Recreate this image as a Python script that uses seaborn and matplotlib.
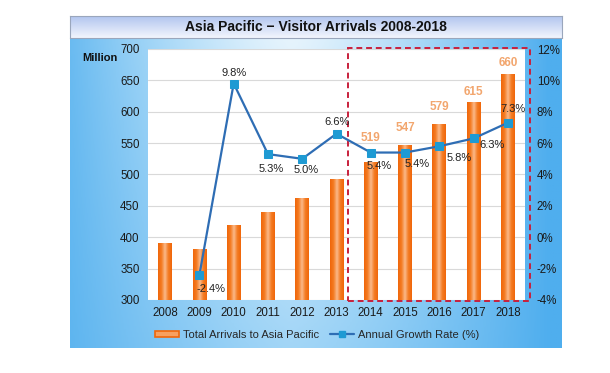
import numpy as np
import pandas as pd
import seaborn as sns
import matplotlib.pyplot as plt
from matplotlib.patches import Rectangle, Patch
from matplotlib.lines import Line2D
from matplotlib.colors import LinearSegmentedColormap

years = ["2008", "2009", "2010", "2011", "2012", "2013",
         "2014", "2015", "2016", "2017", "2018"]
arrivals = [390, 380, 418, 440, 462, 492, 519, 547, 579, 615, 660]
growth = [np.nan, -2.4, 9.8, 5.3, 5.0, 6.6, 5.4, 5.4, 5.8, 6.3, 7.3]
labelled_years = ["2014", "2015", "2016", "2017", "2018"]

sns.set_theme(style="white")
plt.rcParams["font.family"] = ["Liberation Sans", "DejaVu Sans"]

fig = plt.figure(figsize=(6.10, 3.73), dpi=100)
W, H = 610, 373

def box(x0, y0, x1, y1):
    # pixel box (top-left origin) -> figure fraction rect
    return [x0 / W, 1 - y1 / H, (x1 - x0) / W, (y1 - y0) / H]

# blue panel background
bg = fig.add_axes(box(70, 37, 562, 348), zorder=-10)
xx = np.linspace(0, 1, 300)
yy = np.linspace(0, 1, 200)
X, Y = np.meshgrid(xx, yy)
light = 1 - np.clip(np.abs(X - 0.45) * 1.9, 0, 1) ** 1.3
light = light * (0.55 + 0.45 * Y)
blue_cmap = LinearSegmentedColormap.from_list("bg", ["#4FAEEE", "#9AD2F6", "#E6F4FD"])
bg.imshow(light, cmap=blue_cmap, aspect="auto", origin="lower", extent=[0, 1, 0, 1])
bg.set_axis_off()

# title bar
tb = fig.add_axes(box(70, 16, 562, 38), zorder=-9)
tb.imshow(np.linspace(1, 0, 50).reshape(-1, 1), aspect="auto",
          cmap=LinearSegmentedColormap.from_list("tb", ["#F2F5FD", "#AFC3EE"]),
          extent=[0, 1, 0, 1])
tb.set_xticks([]); tb.set_yticks([])
for s in tb.spines.values():
    s.set_color("#9AA6BC"); s.set_linewidth(0.8)
tb.text(0.5, 0.5, "Asia Pacific \u2212 Visitor Arrivals 2008-2018", ha="center",
        va="center", fontsize=10, fontweight="bold", color="#111111")

ax = fig.add_axes(box(148, 49, 525, 300))
ax.set_facecolor("white")
df = pd.DataFrame({"year": years, "arrivals": arrivals, "growth": growth})
sns.barplot(data=df, x="year", y="arrivals", ax=ax, width=0.4, color="#F47920",
            zorder=2)
ymin, ymax = 300, 700
ax.set_ylim(ymin, ymax)
ax.set_xlim(-0.5, len(years) - 0.5)
ax.set_yticks(range(300, 701, 50))
ax.grid(axis="y", color="#D9D9D9", linewidth=0.8, zorder=0)
ax.set_axisbelow(True)
ax.set_xlabel("")
ax.set_ylabel("")
for s in ax.spines.values():
    s.set_visible(False)
ax.tick_params(axis="both", length=0, labelsize=8.3, colors="#1A1A1A")
ax.tick_params(axis="y", pad=6)
ax.tick_params(axis="x", pad=5)

# cylinder-like gradient on the bars (image over the visible part of each bar)
bar_cmap = LinearSegmentedColormap.from_list(
    "bar", ["#F0660A", "#F47B22", "#FAB98A", "#F47B22", "#F0660A"])
grad = np.linspace(0, 1, 64).reshape(1, -1)
for p in list(ax.patches):
    x0, w, top = p.get_x(), p.get_width(), p.get_y() + p.get_height()
    ax.imshow(grad, cmap=bar_cmap, aspect="auto", zorder=2.5,
              extent=[x0, x0 + w, ymin, top])
    p.set_visible(False)
ax.set_ylim(ymin, ymax)
ax.set_xlim(-0.5, len(years) - 0.5)

# orange value labels on the last five bars
val_offsets = [25, 17, 18, 10, 11]
for yr, off in zip(labelled_years, val_offsets):
    i = years.index(yr)
    ax.annotate(str(arrivals[i]), (i, arrivals[i]), xytext=(0, off),
                textcoords="offset pixels", ha="center", va="center",
                fontsize=8.5, fontweight="bold", color="#F2A66E", zorder=5)

ax.text(-0.127, 0.964, "Million", transform=ax.transAxes, fontsize=8,
        fontweight="bold", ha="center", va="center", color="#111111")

# growth rate line on the secondary axis
ax2 = ax.twinx()
sns.lineplot(x=np.arange(len(years)), y=growth, ax=ax2, color="#2E6DB4",
             linewidth=1.6, marker="s", markersize=5.5, markerfacecolor="#1E9AD3",
             markeredgecolor="#1E9AD3", zorder=4)
ax2.set_ylim(-4, 12)
ax2.set_yticks(range(-4, 13, 2))
ax2.set_yticklabels([f"{t}%" for t in range(-4, 13, 2)])
ax2.tick_params(axis="y", length=0, labelsize=8.3, pad=8.5, colors="#1A1A1A")
ax2.grid(False)
for s in ax2.spines.values():
    s.set_visible(False)

g_offsets = [None, (12, -14), (0, 11), (3, -15), (4, -11), (1, 12),
             (8, -13), (12, -11), (20, -12), (18, -7), (5, 14)]
for i, g in enumerate(growth):
    if np.isnan(g):
        continue
    ax2.annotate(f"{g:.1f}%", (i, g), xytext=g_offsets[i], textcoords="offset pixels",
                 ha="center", va="center", fontsize=8, color="#222222", zorder=6)

# dashed highlight box round 2014-2018
ax.add_patch(Rectangle((5.35, 298), 5.3, 404, fill=False, edgecolor="#C8203C",
                       linestyle=(0, (3, 2)), linewidth=1.4, clip_on=False, zorder=7))

handles = [Patch(facecolor="#F7A060", edgecolor="#F0660A", linewidth=1.2),
           Line2D([0], [0], color="#2E6DB4", marker="s", markersize=4,
                  markerfacecolor="#1E9AD3", markeredgecolor="#1E9AD3", linewidth=1.6)]
fig.legend(handles, ["Total Arrivals to Asia Pacific", "Annual Growth Rate (%)"],
           loc="center", bbox_to_anchor=(317 / W, 1 - 335 / H), ncol=2, frameon=False,
           fontsize=8, handlelength=2.2, handleheight=0.5, columnspacing=1.0,
           handletextpad=0.3)

fig.savefig("out.png", dpi=100)
